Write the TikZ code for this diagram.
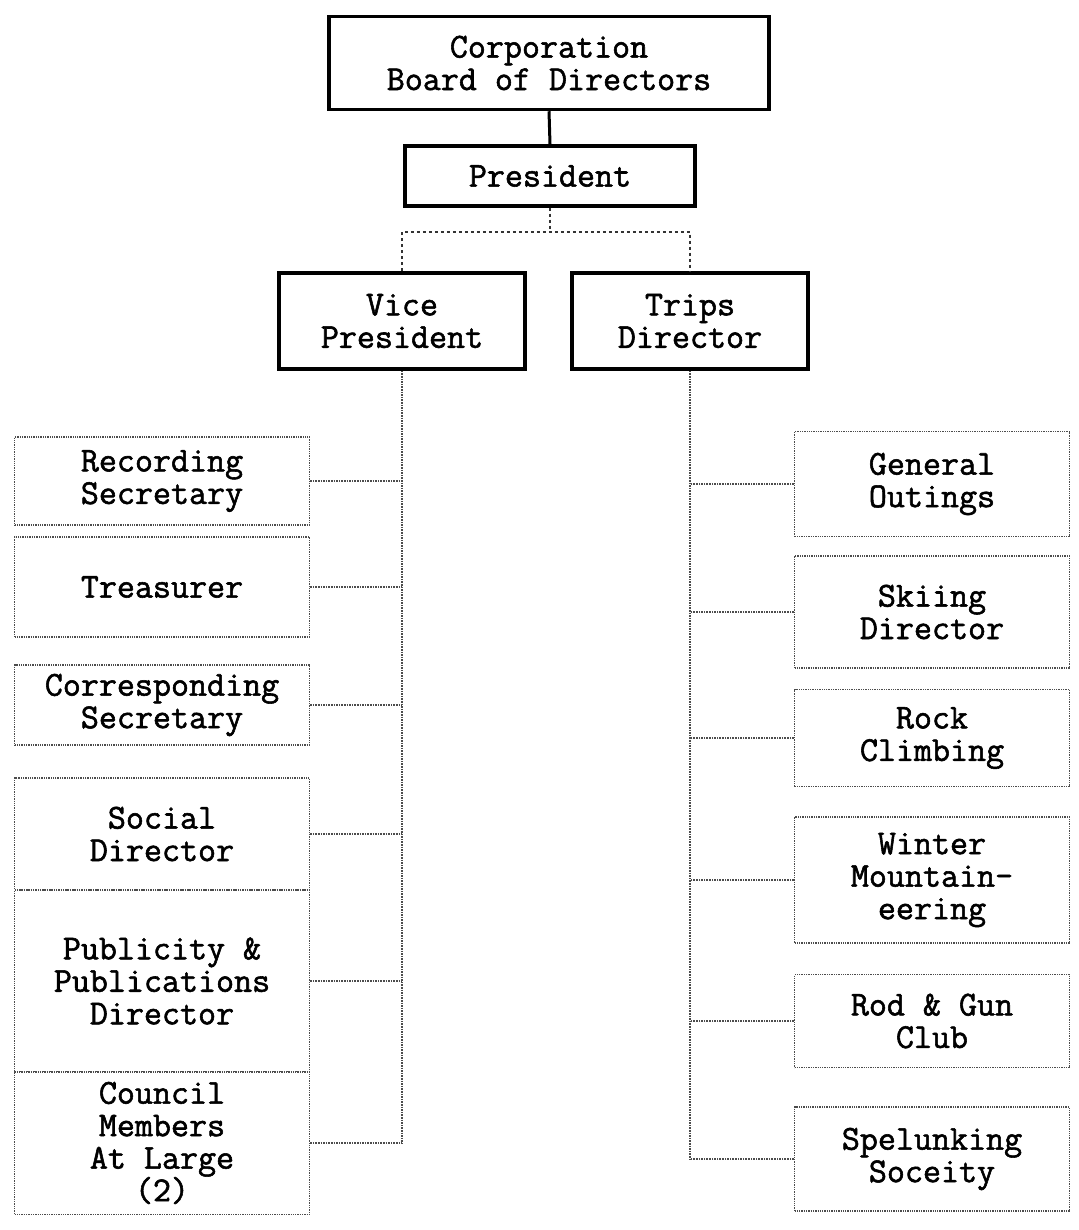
\documentclass[tikz,border=0pt]{standalone}
\usepackage{fontspec}
\setmonofont{Latin Modern Mono}[AutoFakeBold=1.6]
\usetikzlibrary{positioning}

\begin{document}
\begin{tikzpicture}[x=1pt,y=-1pt,
		font=\fontsize{35pt}{32.5pt}\selectfont\ttfamily\bfseries,
		office/.style={draw,line width=3.5pt,align=center,inner sep=0pt},
		post/.style={draw=black!70,densely dotted,line width=1.3pt,align=center,inner sep=0pt},
		tie/.style={line width=3pt},
		bus/.style={black!80,dashed,line width=2pt},
		link/.style={black!70,densely dotted,line width=1.6pt}]
	\useasboundingbox (0,0) rectangle (1078,1230);
	
	\node[office,minimum width=440pt,minimum height=93pt] (board) at (549,63) {Corporation\\Board of Directors};
	\node[office,minimum width=290pt,minimum height=60pt] (pres) at (550,176) {President};
	\node[office,minimum width=246pt,minimum height=96pt] (vp) at (402,321) {Vice\\President};
	\node[office,minimum width=236pt,minimum height=96pt] (trips) at (690,321) {Trips\\Director};
	
	\node[post,minimum width=295pt,minimum height=88pt] (rec) at (162,481) {Recording\\Secretary};
	\node[post,minimum width=295pt,minimum height=100pt] (treas) at (162,587) {Treasurer};
	\node[post,minimum width=295pt,minimum height=80pt] (corr) at (162,705) {Corresponding\\Secretary};
	\node[post,minimum width=295pt,minimum height=112pt] (social) at (162,834) {Social\\Director};
	\node[post,minimum width=295pt,minimum height=182pt] (publ) at (162,981) {Publicity \&\\Publications\\Director};
	\node[post,minimum width=295pt,minimum height=143pt] (council) at (162,1143) {Council\\Members\\At Large\\(2)};
	
	\node[post,minimum width=275pt,minimum height=105pt] (outings) at (932,484) {General\\Outings};
	\node[post,minimum width=275pt,minimum height=112pt] (skiing) at (932,612) {Skiing\\Director};
	\node[post,minimum width=275pt,minimum height=97pt] (rock) at (932,738) {Rock\\Climbing};
	\node[post,minimum width=275pt,minimum height=126pt] (winter) at (932,880) {Winter\\Mountain-\\eering};
	\node[post,minimum width=275pt,minimum height=93pt] (rod) at (932,1021) {Rod \& Gun\\Club};
	\node[post,minimum width=275pt,minimum height=104pt] (spel) at (932,1159) {Spelunking\\Soceity};
	
	\coordinate (fork) at (550,232);
	\coordinate (vpend) at (402,1143);
	\coordinate (tripsend) at (690,1159);
	
	\draw[tie] (pres.north) -- (board.south);
	\draw[bus] (pres.south) -- (fork);
	\draw[bus] (vp.north) |- (fork) -| (trips.north);
	
	\draw[link] (vp.south) -- (vpend);
	\foreach \n in {rec,treas,corr,social,publ,council}
		\draw[link] (\n.east) -- (\n.east -| vpend);
	
	\draw[link] (trips.south) -- (tripsend);
	\foreach \n in {outings,skiing,rock,winter,rod,spel}
		\draw[link] (\n.west) -- (\n.west -| tripsend);
\end{tikzpicture}
\end{document}
